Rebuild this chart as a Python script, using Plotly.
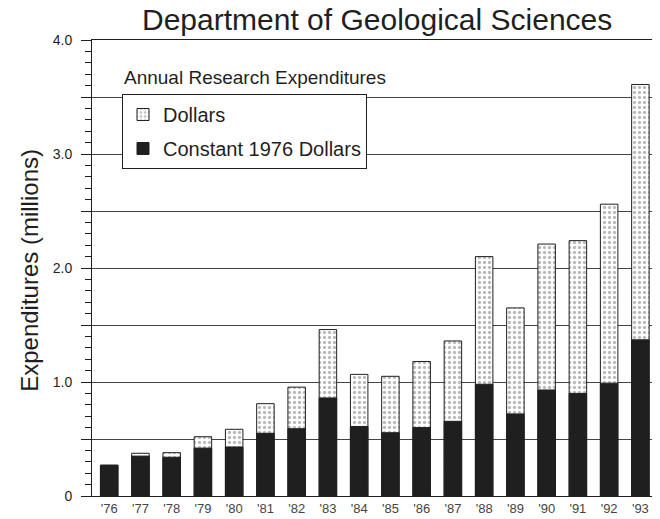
import plotly.graph_objects as go

years = ["'76", "'77", "'78", "'79", "'80", "'81", "'82", "'83", "'84",
         "'85", "'86", "'87", "'88", "'89", "'90", "'91", "'92", "'93"]
dollars = [0.27, 0.375, 0.38, 0.52, 0.585, 0.81, 0.955, 1.46, 1.067,
           1.05, 1.18, 1.36, 2.10, 1.65, 2.21, 2.24, 2.56, 3.61]
constant_1976 = [0.27, 0.35, 0.34, 0.42, 0.43, 0.55, 0.59, 0.86, 0.61,
                 0.555, 0.60, 0.655, 0.98, 0.72, 0.93, 0.90, 0.99, 1.37]
y_tickvals = [0, 0.5, 1.0, 1.5, 2.0, 2.5, 3.0, 3.5, 4.0]
y_ticktext = ["0", "", "1.0", "", "2.0", "", "3.0", "", "4.0"]

FONT = "Liberation Sans, Arial, Helvetica, sans-serif"
INK = "#1f1f1f"

fig = go.Figure()
fig.add_trace(go.Bar(
    x=years, y=dollars, name="Dollars", legendgroup="a",
    width=0.56,
    marker=dict(color="white",
                line=dict(color=INK, width=1),
                pattern=dict(shape=".", fgcolor="#777777", bgcolor="white",
                             size=5, solidity=0.35)),
))
fig.add_trace(go.Bar(
    x=years, y=constant_1976, name="Constant 1976 Dollars", legendgroup="b",
    width=0.56,
    marker=dict(color=INK, line=dict(color=INK, width=1)),
))

fig.update_layout(
    width=652, height=511,
    barmode="overlay",
    paper_bgcolor="white", plot_bgcolor="white",
    margin=dict(l=84, r=4, t=32, b=23),
    font=dict(family=FONT, color=INK),
    showlegend=True,
    legend=dict(x=0.0532, y=0.8816, xanchor="left", yanchor="top",
                bgcolor="white", bordercolor=INK, borderwidth=1,
                font=dict(size=20, color=INK),
                traceorder="grouped", tracegroupgap=5),
    xaxis=dict(type="category", range=[-0.55, 17.5],
               showline=True, linecolor=INK, linewidth=1, mirror=True,
               ticks="", showgrid=False,
               tickfont=dict(size=13, color="#444444")),
    yaxis=dict(range=[0, 4], tickvals=y_tickvals, ticktext=y_ticktext,
               showline=True, linecolor=INK, linewidth=1, mirror=True,
               ticks="outside", ticklen=10, tickcolor=INK,
               ticklabelstandoff=6,
               showgrid=True, gridcolor="#444444", gridwidth=1,
               zeroline=False,
               tickfont=dict(size=14, color=INK),
               minor=dict(dtick=0.1, ticks="outside", ticklen=6,
                          tickcolor=INK, showgrid=False)),
    annotations=[
        dict(text="Department of Geological Sciences", xref="paper", yref="paper",
             x=0.505, y=1.046, xanchor="center", yanchor="middle",
             showarrow=False, font=dict(size=30, color=INK)),
        dict(text="Expenditures (millions)", xref="paper", yref="paper",
             x=-0.11, y=0.496, xanchor="center", yanchor="middle",
             textangle=-90, showarrow=False, font=dict(size=24, color=INK)),
        dict(text="Annual Research Expenditures", xref="paper", yref="paper",
             x=0.0532, y=0.917, xanchor="left", yanchor="middle",
             showarrow=False, font=dict(size=19, color=INK)),
    ],
)

fig.write_html("out.html")
